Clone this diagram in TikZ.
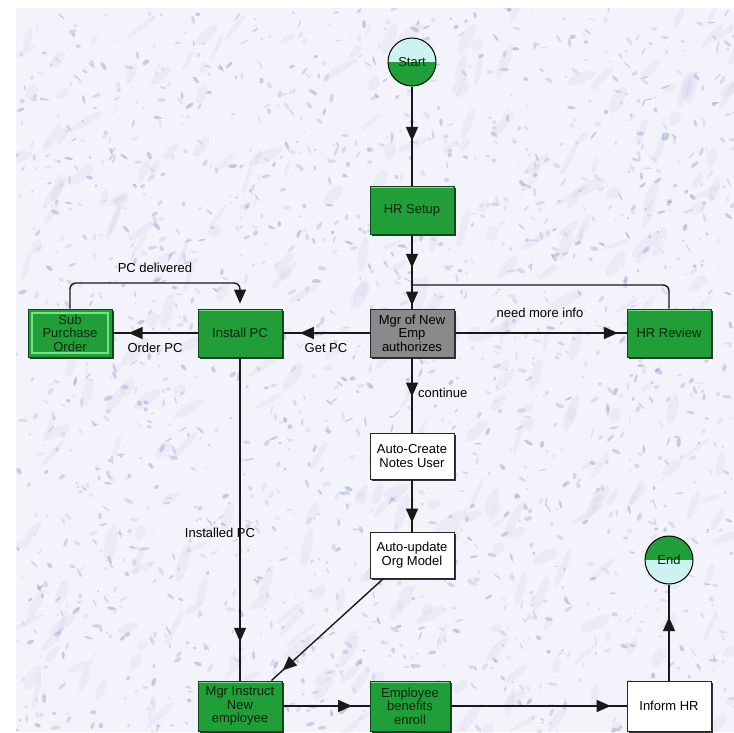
\documentclass[tikz,border=0pt]{standalone}
\usepackage{fontspec}
\setmainfont{Liberation Sans}
\usetikzlibrary{arrows.meta,decorations.markings,shadows}
\definecolor{boxgreen}{RGB}{32,158,56}
\definecolor{greenedge}{RGB}{12,70,24}
\definecolor{greenlight}{RGB}{120,225,130}
\definecolor{boxgray}{RGB}{138,138,138}
\definecolor{cyanlight}{RGB}{205,242,242}
\definecolor{bgcol}{RGB}{243,243,251}
\definecolor{texcol}{RGB}{145,145,205}
\definecolor{txtdark}{RGB}{10,35,12}
\begin{document}
\begin{tikzpicture}[x=1pt,y=-1pt,
  font=\fontsize{13}{13.5}\selectfont,
  basebox/.style={rectangle, align=center, inner sep=1pt, minimum width=84pt, minimum height=48pt,
    line width=1pt, general shadow={fill=black!80, shadow xshift=1.8pt, shadow yshift=-1.8pt}},
  greenbox/.style={basebox, fill=boxgreen, draw=greenedge, text=txtdark,
    path picture={\draw[greenlight, line width=1.5pt]
      ([xshift=1pt,yshift=-1.5pt]path picture bounding box.north west) --
      ([xshift=-1pt,yshift=-1.5pt]path picture bounding box.north east);}},
  subbox/.style={basebox, fill=boxgreen, draw=greenedge, text=txtdark,
    path picture={\draw[greenlight, line width=1.5pt]
      ([shift={(4pt,-4pt)}]path picture bounding box.north west) rectangle
      ([shift={(-4pt,4pt)}]path picture bounding box.south east);}},
  graybox/.style={basebox, fill=boxgray, draw=black!85, text=black},
  whitebox/.style={basebox, fill=white, draw=black!85, text=black},
  startcirc/.style={circle, draw=black, line width=1pt, minimum size=48pt, inner sep=0pt,
    fill=cyanlight, text=txtdark,
    path picture={\fill[boxgreen] (path picture bounding box.west) rectangle (path picture bounding box.south east);}},
  endcirc/.style={circle, draw=black, line width=1pt, minimum size=48pt, inner sep=0pt,
    fill=cyanlight, text=txtdark,
    path picture={\fill[boxgreen] (path picture bounding box.west) rectangle (path picture bounding box.north east);}},
  lbl/.style={inner sep=0pt, text=black},
  conn/.style={line width=1.4pt, draw=black!90},
  amark/.style={postaction={decorate}, decoration={markings,
    mark=at position #1 with {\arrow{Triangle[length=14pt,width=12pt]}}}},
  endtip/.style={-{Triangle[length=14pt,width=12pt]}}
]
\useasboundingbox (0,0) rectangle (734,732);
% textured background
\begin{scope}
\clip (16,8) rectangle (734,732);
\fill[bgcol] (16,8) rectangle (734,732);
\pgfmathsetseed{17}
\foreach \i in {1,...,350}{
  \pgfmathsetmacro{\px}{16+rnd*718}
  \pgfmathsetmacro{\py}{8+rnd*724}
  \pgfmathsetmacro{\rx}{6+rnd*14}
  \pgfmathsetmacro{\ry}{2+rnd*4}
  \pgfmathsetmacro{\ang}{20+rnd*60}
  \fill[texcol, opacity=0.08, rotate around={\ang:(\px,\py)}] (\px,\py) ellipse ({\rx pt} and {\ry pt});
}
\foreach \i in {1,...,1800}{
  \pgfmathsetmacro{\px}{16+rnd*718}
  \pgfmathsetmacro{\py}{8+rnd*724}
  \pgfmathsetmacro{\rx}{1+rnd*4}
  \pgfmathsetmacro{\ry}{0.6+rnd*1.6}
  \pgfmathsetmacro{\ang}{rnd*180}
  \pgfmathsetmacro{\op}{0.12+rnd*0.35}
  \fill[texcol, opacity=\op, rotate around={\ang:(\px,\py)}] (\px,\py) ellipse ({\rx pt} and {\ry pt});
}
\end{scope}

% nodes
\node[startcirc] (start) at (412,62) {Start};
\node[greenbox] (hrsetup) at (412,210) {HR Setup};
\node[graybox] (mgr) at (412,333) {Mgr of New\\Emp\\authorizes};
\node[greenbox] (install) at (240,333) {Install PC};
\node[subbox] (sub) at (70,333) {Sub\\Purchase\\Order};
\node[greenbox] (hrreview) at (669,333) {HR Review};
\node[whitebox, minimum height=46pt] (autocreate) at (412,456) {Auto-Create\\Notes User};
\node[whitebox, minimum height=46pt] (autoupdate) at (412,555) {Auto-update\\Org Model};
\node[greenbox, minimum height=50pt] (mgrinstr) at (240,706) {Mgr Instruct\\New\\employee};
\node[greenbox, minimum width=80pt, minimum height=50pt] (benefits) at (410,706) {Employee\\benefits\\enroll};
\node[whitebox, minimum height=50pt] (inform) at (669,706) {Inform HR};
\node[endcirc] (end) at (669,560) {End};

\coordinate (loopA) at (240,283);
\coordinate (loopB) at (412,285);

% connectors
\draw[conn, amark=0.55] (start) -- (hrsetup);
\draw[conn, amark=0.45] (hrsetup) -- (mgr);
\draw[conn, rounded corners=6pt] (hrreview.north) |- (loopB);
\draw[conn, endtip, shorten >=3pt] (loopB) -- (mgr.north);
\draw[conn, amark=0.95] (mgr) -- (hrreview);
\draw[conn, amark=0.8] (mgr) -- (install);
\draw[conn, amark=0.81] (install) -- (sub);
\draw[conn, endtip, shorten >=5pt, rounded corners=6pt] (sub.north) |- (loopA) -- (install.north);
\draw[conn, amark=0.52] (mgr) -- (autocreate);
\draw[conn, amark=0.83] (autocreate) -- (autoupdate);
\draw[conn, amark=0.9] ([xshift=14pt]autoupdate.south west) -- ([xshift=-11pt]mgrinstr.north east);
\draw[conn, amark=0.88] (install) -- (mgrinstr);
\draw[conn, amark=0.8] (mgrinstr) -- (benefits);
\draw[conn, amark=0.91] (benefits) -- (inform);
\draw[conn, amark=0.66] (inform) -- (end);

% labels
\node[lbl] (lpcdel) at (155,268) {PC delivered};
\node[lbl] (lorder) at (155,348) {Order PC};
\node[lbl] (lget) at (326,348) {Get PC};
\node[lbl] (lmore) at (540,313) {need more info};
\node[lbl, anchor=west] (lcont) at (418,393) {continue};
\node[lbl] (linst) at (220,533) {Installed PC};
\end{tikzpicture}
\end{document}
